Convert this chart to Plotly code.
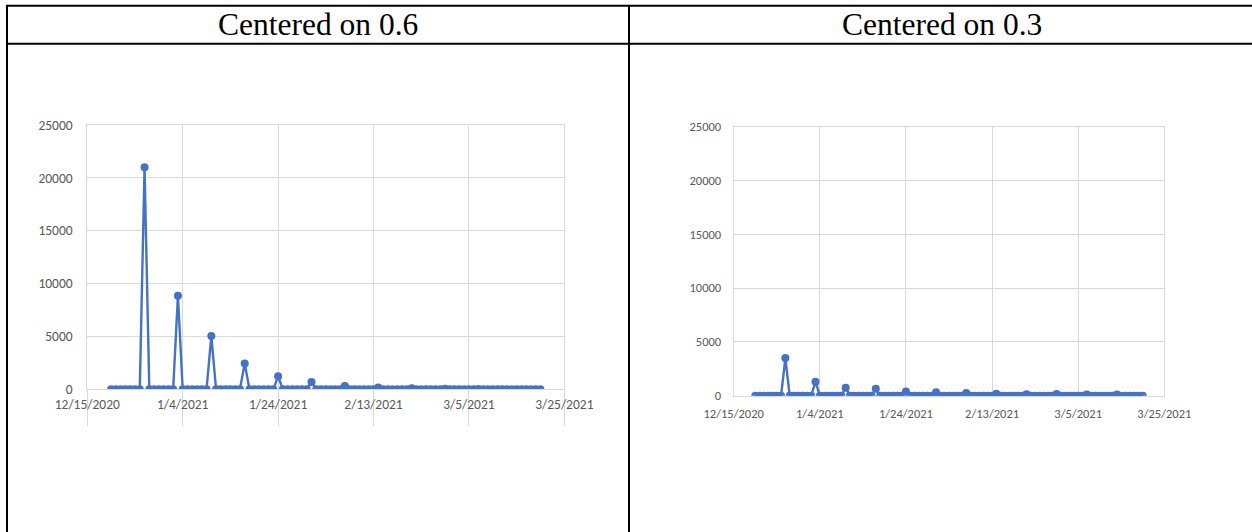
import pandas as pd
import plotly.graph_objects as go

# Daily observations, 12/20/2020 through 3/20/2021 (13 weeks, one row per week)
dates = pd.date_range("2020-12-20", "2021-03-20", freq="D")

values_06 = [
    0, 0, 0, 0, 0, 0, 0,
    21000, 0, 0, 0, 0, 0, 0,
    8850, 0, 0, 0, 0, 0, 0,
    5050, 0, 0, 0, 0, 0, 0,
    2450, 0, 0, 0, 0, 0, 0,
    1230, 0, 0, 0, 0, 0, 0,
    680, 0, 0, 0, 0, 0, 0,
    310, 0, 0, 0, 0, 0, 0,
    180, 0, 0, 0, 0, 0, 0,
    95, 0, 0, 0, 0, 0, 0,
    45, 0, 0, 0, 0, 0, 0,
    20, 0, 0, 0, 0, 0, 0,
    10, 0, 0, 0, 0, 0, 0,
]

values_03 = [
    0, 0, 0, 0, 0, 0, 0,
    3500, 0, 0, 0, 0, 0, 0,
    1300, 0, 0, 0, 0, 0, 0,
    750, 0, 0, 0, 0, 0, 0,
    650, 0, 0, 0, 0, 0, 0,
    380, 0, 0, 0, 0, 0, 0,
    310, 0, 0, 0, 0, 0, 0,
    240, 0, 0, 0, 0, 0, 0,
    170, 0, 0, 0, 0, 0, 0,
    140, 0, 0, 0, 0, 0, 0,
    160, 0, 0, 0, 0, 0, 0,
    120, 0, 0, 0, 0, 0, 0,
    120, 0, 0, 0, 0, 0, 0,
]

x_tick_dates = ["2020-12-15", "2021-01-04", "2021-01-24", "2021-02-13", "2021-03-05", "2021-03-25"]
x_tick_labels = ["12/15/2020", "1/4/2021", "1/24/2021", "2/13/2021", "3/5/2021", "3/25/2021"]
y_ticks = [0, 5000, 10000, 15000, 20000, 25000]
headers = ["Centered on 0.6", "Centered on 0.3"]

W, H = 1252, 532
BLUE = "#4472C4"
GRID = "#d9d9d9"
LABEL = "#595959"
TICK_FONT = "Calibri, Carlito, Lato, sans-serif"


def px_x(v):
    return v / W


def px_y(v):
    return 1 - v / H


fig = go.Figure()

for i, vals in enumerate([values_06, values_03]):
    suffix = "" if i == 0 else "2"
    fig.add_trace(go.Scatter(
        x=dates, y=vals, mode="lines+markers",
        line=dict(color=BLUE, width=2.4),
        marker=dict(color=BLUE, size=8),
        xaxis="x" + suffix, yaxis="y" + suffix,
        showlegend=False, hoverinfo="skip",
    ))

# plot-area boxes (pixels): left, right, top, bottom
boxes = [(87.3, 564.3, 125.0, 389.3), (733.7, 1164.3, 126.7, 395.7)]
font_sizes = [13.5, 12.5]
for i, (l, r, t, b) in enumerate(boxes):
    suffix = "" if i == 0 else "2"
    xa = dict(
        type="date", range=["2020-12-15", "2021-03-25"],
        domain=[px_x(l), px_x(r)], anchor="y" + suffix,
        tickmode="array", tickvals=x_tick_dates, ticktext=x_tick_labels,
        showgrid=True, gridcolor=GRID, gridwidth=1,
        showline=True, linecolor=GRID, linewidth=1, mirror=True,
        tickfont=dict(family=TICK_FONT, size=font_sizes[i], color=LABEL),
        zeroline=False, fixedrange=True, automargin=False,
    )
    if i == 0:
        xa.update(ticks="outside", ticklen=36, tickcolor=GRID, tickwidth=1,
                  ticklabelstandoff=-34)
    else:
        xa.update(ticks="", ticklabelstandoff=6)
    ya = dict(
        range=[0, 25000], domain=[px_y(b), px_y(t)], anchor="x" + suffix,
        tickmode="array", tickvals=y_ticks, ticktext=[str(v) for v in y_ticks],
        showgrid=True, gridcolor=GRID, gridwidth=1,
        showline=True, linecolor=GRID, linewidth=1, mirror=True,
        ticks="", ticklabelstandoff=11 if i == 0 else 9,
        tickfont=dict(family=TICK_FONT, size=font_sizes[i], color=LABEL),
        zeroline=False, fixedrange=True, automargin=False,
    )
    fig.update_layout(**{"xaxis" + suffix: xa, "yaxis" + suffix: ya})

# table rules
rule = dict(color="black", width=2)
shapes = [
    dict(type="line", xref="paper", yref="paper", x0=px_x(6), x1=1, y0=px_y(5.8), y1=px_y(5.8), line=rule),
    dict(type="line", xref="paper", yref="paper", x0=px_x(6), x1=1, y0=px_y(43.7), y1=px_y(43.7), line=rule),
    dict(type="line", xref="paper", yref="paper", x0=px_x(7), x1=px_x(7), y0=px_y(5), y1=0, line=rule),
    dict(type="line", xref="paper", yref="paper", x0=px_x(629), x1=px_x(629), y0=px_y(5), y1=0, line=rule),
]

annotations = []
for text, cx in zip(headers, [318, 941.5]):
    annotations.append(dict(
        text=text, xref="paper", yref="paper", x=px_x(cx), y=px_y(24),
        xanchor="center", yanchor="middle", showarrow=False,
        font=dict(family="Liberation Serif, Times New Roman, serif", size=31.5, color="black"),
    ))

fig.update_layout(
    width=W, height=H, margin=dict(l=0, r=0, t=0, b=0, pad=0, autoexpand=False),
    paper_bgcolor="white", plot_bgcolor="white",
    shapes=shapes, annotations=annotations,
)

fig.write_html("out.html")
